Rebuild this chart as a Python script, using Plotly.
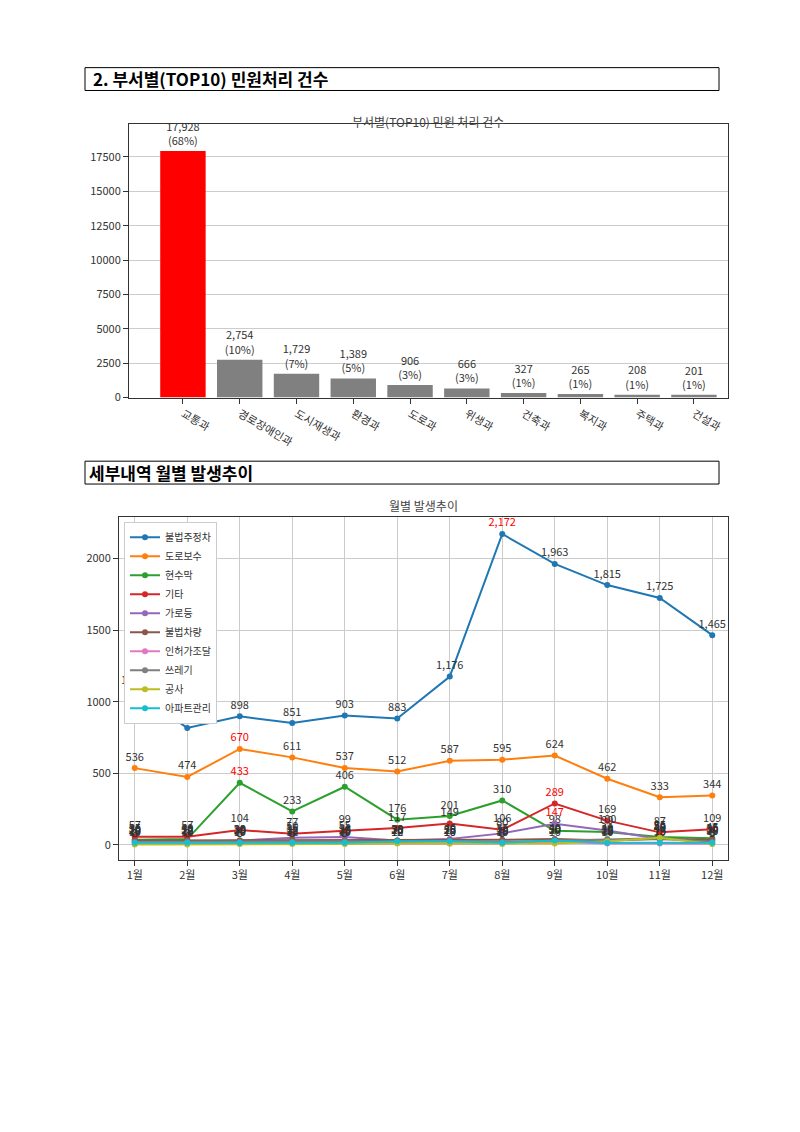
import plotly.graph_objects as go

depts = ["교통과", "경로장애인과", "도시재생과", "환경과", "도로과", "위생과", "건축과", "복지과", "주택과", "건설과"]
counts = [17928, 2754, 1729, 1389, 906, 666, 327, 265, 208, 201]
pcts = ["68%", "10%", "7%", "5%", "3%", "3%", "1%", "1%", "1%", "1%"]

months = [f"{i}월" for i in range(1, 13)]
series_names = ["불법주정차", "도로보수", "현수막", "기타", "가로등", "불법차량", "인허가조달", "쓰레기", "공사", "아파트관리"]
s_illegal = [1070, 817, 898, 851, 903, 883, 1176, 2172, 1963, 1815, 1725, 1465]
s_road = [536, 474, 670, 611, 537, 512, 587, 595, 624, 462, 333, 344]
s_banner = [35, 40, 433, 233, 406, 176, 201, 310, 98, 90, 55, 45]
s_etc = [57, 57, 104, 77, 99, 117, 149, 106, 289, 169, 87, 109]
s_light = [20, 22, 30, 50, 55, 30, 40, 80, 147, 100, 40, 30]
s_car = [30, 30, 30, 35, 30, 30, 30, 35, 40, 30, 40, 35]
s_permit = [10, 10, 10, 12, 10, 12, 10, 10, 20, 10, 10, 8]
s_trash = [20, 22, 20, 22, 25, 20, 25, 20, 30, 40, 45, 20]
s_const = [3, 3, 5, 5, 5, 10, 10, 5, 10, 25, 50, 5]
s_apt = [15, 15, 15, 15, 15, 25, 25, 15, 30, 15, 15, 15]
all_series = [s_illegal, s_road, s_banner, s_etc, s_light, s_car, s_permit, s_trash, s_const, s_apt]
colors = ["#1f77b4", "#ff7f0e", "#2ca02c", "#d62728", "#9467bd", "#8c564b", "#e377c2", "#7f7f7f", "#bcbd22", "#17becf"]

W, H = 800, 1132
S = 0.99
def px(x): return x / W
def py(y): return 1 - y / H

fig = go.Figure()
fig.add_trace(go.Bar(
    x=depts, y=counts, xaxis="x", yaxis="y",
    marker=dict(color=["red"] + ["#808080"] * 9, line=dict(width=0)),
    text=[f"{c:,}<br>({p})" for c, p in zip(counts, pcts)],
    textposition="outside", textfont=dict(size=11, color="#333"),
    cliponaxis=False, showlegend=False, width=0.8))

for name, vals, col in zip(series_names, all_series, colors):
    mx = max(vals)
    fig.add_trace(go.Scatter(
        x=months, y=vals, xaxis="x2", yaxis="y2", name=name, mode="lines+markers+text",
        line=dict(color=col, width=2), marker=dict(color=col, size=6),
        text=[f"{v:,}" for v in vals], textposition="top center",
        textfont=dict(size=11, color=["red" if v == mx and name not in ("불법차량","인허가조달","쓰레기","공사","아파트관리") else "#333" for v in vals]),
        cliponaxis=False))

axstyle = dict(showline=True, mirror=True, linecolor="#333", ticks="outside", tickcolor="#333",
               tickfont=dict(size=11, color="#333"))
fig.update_layout(
    width=W, height=H, margin=dict(l=0, r=0, t=0, b=0),
    paper_bgcolor="white", plot_bgcolor="white",
    font=dict(family="Noto Sans CJK KR", color="#333"),
    xaxis=dict(domain=[px(121), px(720)], anchor="y", showgrid=False, range=[-0.95, 9.6], **axstyle),
    yaxis=dict(domain=[py(392), py(117)], anchor="x", range=[0, 19870], tickvals=list(range(0, 17501, 2500)),
               tickformat="d", showgrid=True, gridcolor="#ccc", **axstyle),
    xaxis2=dict(domain=[px(111), px(720)], anchor="y2", showgrid=True, gridcolor="#ccc", range=[-0.3, 11.3], **axstyle),
    yaxis2=dict(domain=[py(857), py(512)], anchor="x2", range=[-104, 2292], tickvals=[0, 500, 1000, 1500, 2000],
                showgrid=True, gridcolor="#ccc", zeroline=False, **axstyle),
    legend=dict(x=px(116), y=py(517), xanchor="left", yanchor="top", bgcolor="white",
                bordercolor="#ccc", borderwidth=1, font=dict(size=10), tracegroupgap=0, itemwidth=30),
    shapes=[
        dict(type="rect", xref="paper", yref="paper", x0=px(77), x1=px(711), y0=py(83), y1=py(60), line=dict(color="black", width=1)),
        dict(type="rect", xref="paper", yref="paper", x0=px(77), x1=px(711), y0=py(479), y1=py(456), line=dict(color="black", width=1)),
    ],
    annotations=[
        dict(text="<b>2. 부서별(TOP10) 민원처리 건수</b>", x=px(83), y=py(71), xref="paper", yref="paper",
             xanchor="left", yanchor="middle", showarrow=False, font=dict(size=17, color="black")),
        dict(text="<b>세부내역 월별 발생추이</b>", x=px(79), y=py(467), xref="paper", yref="paper",
             xanchor="left", yanchor="middle", showarrow=False, font=dict(size=17, color="black")),
        dict(text="부서별(TOP10) 민원 처리 건수", x=px(420), y=py(104), xref="paper", yref="paper",
             showarrow=False, font=dict(size=12, color="#444")),
        dict(text="월별 발생추이", x=px(415), y=py(501), xref="paper", yref="paper",
             showarrow=False, font=dict(size=12, color="#444")),
    ],
)
fig.write_html("out.html")
